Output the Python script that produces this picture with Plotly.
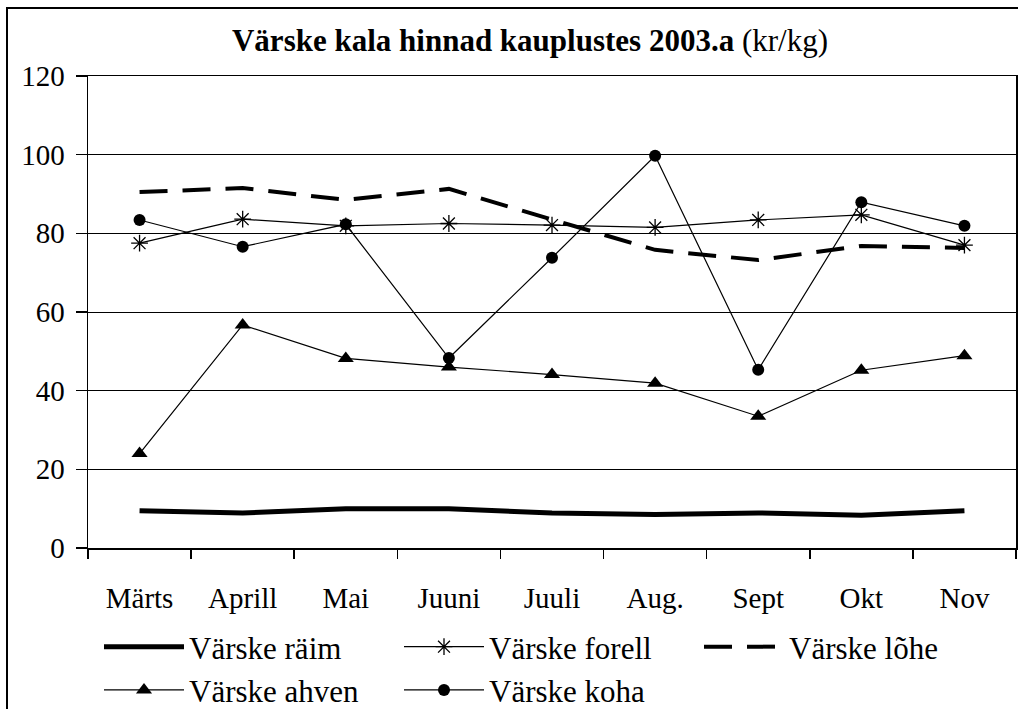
import plotly.graph_objects as go

months = ["Märts", "Aprill", "Mai", "Juuni", "Juuli", "Aug.", "Sept", "Okt", "Nov"]
raim = [9.5, 8.9, 10.0, 10.0, 8.9, 8.5, 8.9, 8.3, 9.5]
forell = [77.5, 83.6, 81.9, 82.5, 82.1, 81.5, 83.4, 84.7, 77.0]
lohe = [90.5, 91.5, 88.5, 91.3, 83.5, 75.8, 73.2, 76.8, 76.3]
ahven = [24.0, 56.7, 48.2, 46.0, 44.1, 41.9, 33.5, 45.2, 48.9]
koha = [83.4, 76.6, 82.3, 48.3, 73.8, 99.7, 45.3, 87.9, 81.9]
y_ticks = [0, 20, 40, 60, 80, 100, 120]

FONT = "Liberation Serif, Times New Roman, serif"
W, H = 1018, 709
L, R, T, B = 88, 2, 76, 161
pw, ph = W - L - R, H - T - B

fig = go.Figure()
fig.add_trace(go.Scatter(x=months, y=raim, name="Värske räim", mode="lines",
                         line=dict(color="black", width=5)))
fig.add_trace(go.Scatter(x=months, y=forell, name="Värske forell", mode="lines+markers",
                         line=dict(color="black", width=1.2),
                         marker=dict(symbol="asterisk-open", size=14, color="black",
                                     line=dict(color="black", width=1.3))))
fig.add_trace(go.Scatter(x=months, y=lohe, name="Värske lõhe", mode="lines",
                         line=dict(color="black", width=4, dash="28px,15px")))
fig.add_trace(go.Scatter(x=months, y=ahven, name="Värske ahven", mode="lines+markers",
                         line=dict(color="black", width=1.2),
                         marker=dict(symbol="triangle-up", size=14, color="black")))
fig.add_trace(go.Scatter(x=months, y=koha, name="Värske koha", mode="lines+markers",
                         line=dict(color="black", width=1.2),
                         marker=dict(symbol="circle", size=12, color="black")))

# outer chart frame
fig.add_shape(type="rect", xref="paper", yref="paper",
              x0=(7 - L) / pw, x1=(W + 5 - L) / pw,
              y0=(H - B - (H + 5)) / ph, y1=(H - B - 8) / ph,
              line=dict(color="black", width=2), layer="below")

fig.update_layout(
    width=W, height=H,
    margin=dict(l=L, r=R, t=T, b=B, pad=0, autoexpand=False),
    paper_bgcolor="white", plot_bgcolor="white",
    font=dict(family=FONT, size=29, color="black"),
    title=dict(text="<b>Värske kala hinnad kauplustes 2003.a</b> (kr/kg)",
               font=dict(family=FONT, size=31, color="black"),
               x=530 / W, xanchor="center", xref="container",
               y=1 - 40 / H, yanchor="middle", yref="container"),
    showlegend=True,
    legend=dict(orientation="h", x=(99 - L) / pw, xanchor="left",
                y=(H - B - 620) / ph, yanchor="top",
                font=dict(family=FONT, size=31, color="black"),
                itemwidth=80, entrywidth=205, entrywidthmode="pixels",
                bgcolor="rgba(0,0,0,0)", traceorder="normal"),
    xaxis=dict(type="category", range=[-0.5, 8.5], tickson="boundaries",
               ticks="outside", ticklen=9, tickwidth=1.5, tickcolor="black",
               showline=True, linecolor="black", linewidth=1.5, mirror=True,
               showgrid=False, zeroline=False, ticklabelstandoff=24, automargin=False,
               tickfont=dict(family=FONT, size=29, color="black")),
    yaxis=dict(range=[0, 120], tickvals=y_ticks, ticks="outside", ticklen=11,
               tickwidth=1.5, tickcolor="black",
               showline=True, linecolor="black", linewidth=1.5, mirror=True,
               showgrid=True, gridcolor="black", gridwidth=1, zeroline=False,
               ticklabelstandoff=5, automargin=False,
               tickfont=dict(family=FONT, size=29, color="black")),
)

fig.write_html("out.html", config={"displayModeBar": False, "staticPlot": True},
               post_script="document.body.style.margin='0px';document.body.style.overflow='hidden';")
